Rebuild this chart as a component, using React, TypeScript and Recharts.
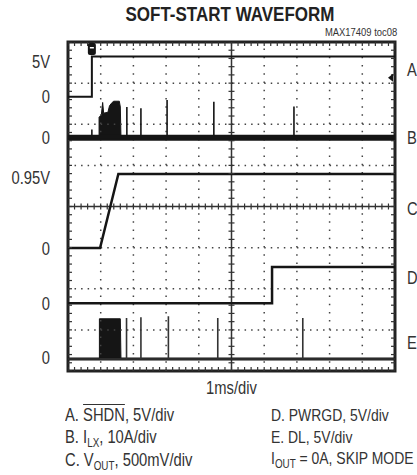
import React from 'react'
import {
  ComposedChart, Line, Area, Scatter, XAxis, YAxis,
  ReferenceLine, ReferenceArea, ReferenceDot,
} from 'recharts'

const FONT = "'Liberation Sans', Arial, sans-serif"
const NARROW = 0.82 // squeeze regular sans into a narrow face
const INK = '#151515'

// scope screen: 10 x 8 divisions, 1ms/div
const DIV_X = 10
const DIV_Y = 8

// channel offsets (div from bottom of screen) and scale per div
const chA = { zero: 6.67, perDiv: 5 }   // SHDN, V
const chB = { zero: 5.67, perDiv: 10 }  // ILX, A
const chC = { zero: 2.99, perDiv: 0.5 } // VOUT, V
const chD = { zero: 1.65, perDiv: 5 }   // PWRGD, V
const chE = { zero: 0.29, perDiv: 5 }   // DL, V

// [time ms, value]
const shdn: [number, number][] = [[0, 0], [0.73, 0], [0.73, 4.9], [10, 4.9]]
const ilxSpikes: [number, number][] = [[0.73, 2], [1.8, 7.5], [2.23, 7.2], [3.03, 9.2], [4.46, 8.8], [6.91, 7.6]]
const ilxBurst: [number, number][] = [
  [0.95, 0], [0.95, 5.0], [1.02, 5.6], [1.06, 8.6], [1.09, 6.0], [1.22, 6.2],
  [1.27, 7.8], [1.35, 8.6], [1.4, 8.9], [1.57, 8.9], [1.6, 7.5], [1.62, 0],
]
const vout: [number, number][] = [[0, 0], [0.98, 0], [1.54, 0.9], [10, 0.9]]
const pwrgd: [number, number][] = [[0, 0], [6.24, 0], [6.24, 4.4], [10, 4.4]]
const dlSpikes: [number, number][] = [[1.79, 5.0], [2.23, 5.1], [3.07, 5.2], [4.58, 5.0], [7.18, 5.0]]
const dlBurst: [number, number][] = [[0.96, 0], [0.96, 4.9], [1.6, 4.9], [1.62, 0]]

// left level labels and right channel letters (div from bottom)
const leftTicks = [7.52, 6.67, 5.67, 4.7, 2.97, 1.63, 0.32]
const leftLabels = ['5V', '0', '0', '0.95V', '0', '0', '0']
const rightTicks = [7.32, 5.67, 3.94, 2.26, 0.68]
const rightLabels = ['A', 'B', 'C', 'D', 'E']

const gridCols = [1, 2, 3, 4, 6, 7, 8, 9]
const gridRows = [1, 2, 3, 5, 6, 7]

type Ch = { zero: number; perDiv: number }
const toDiv = (ch: Ch, pts: [number, number][]) =>
  pts.map(([t, v]) => ({ t, y: ch.zero + v / ch.perDiv }))

const spikeTrace = (spikes: [number, number][]) => {
  const pts: [number, number][] = [[0, 0]]
  spikes.forEach(([t, p]) => { pts.push([t, 0], [t, p], [t, 0]) })
  pts.push([10, 0])
  return pts
}

const toRange = (ch: Ch, pts: [number, number][]) =>
  pts.map(([t, v]) => ({ t, r: [ch.zero, ch.zero + v / ch.perDiv] }))

// minor graticule marks, every 1/5 div
const minorX = Array.from({ length: DIV_X * 5 + 1 }, (_, i) => i / 5)
const minorY = Array.from({ length: DIV_Y * 5 + 1 }, (_, i) => i / 5)

const mark = (dx1: number, dy1: number, dx2: number, dy2: number) => (p: any) => (
  <line x1={p.cx + dx1} y1={p.cy + dy1} x2={p.cx + dx2} y2={p.cy + dy2} stroke="#333" strokeWidth={1.2} />
)

const leftMap = new Map(leftTicks.map((v, i) => [v, leftLabels[i]]))
const rightMap = new Map(rightTicks.map((v, i) => [v, rightLabels[i]]))

function NarrowTick(props: any) {
  const { x, y, payload, textAnchor, map } = props
  return (
    <text
      transform={`translate(${x},${y}) scale(${NARROW},1)`}
      textAnchor={textAnchor} dy="0.355em"
      fill="#333" fontSize={18} fontFamily={FONT}
    >
      {map.get(payload.value) ?? ''}
    </text>
  )
}

function TimeLabel(props: any) {
  const { x, y, width, height } = props.viewBox
  return (
    <text
      transform={`translate(${x + width / 2},${y + height / 2}) scale(${NARROW},1)`}
      textAnchor="middle" dy="0.355em" fill="#333" fontSize={18} fontFamily={FONT}
    >
      1ms/div
    </text>
  )
}

const narrowLine: React.CSSProperties = {
  transform: `scaleX(${NARROW})`, transformOrigin: '0 0', whiteSpace: 'nowrap',
}
const sub: React.CSSProperties = { fontSize: 12, position: 'relative', top: 4 }

export default function App() {
  return (
    <div style={{ position: 'absolute', left: 0, top: 0, width: 417, height: 475, background: '#fff', fontFamily: FONT, color: '#333', overflow: 'hidden' }}>
      <div style={{ position: 'absolute', left: 0, width: 460, top: 4, textAlign: 'center', fontSize: 20, lineHeight: '20px', fontWeight: 700, color: '#222', transform: 'scaleX(0.85)', transformOrigin: '230px 0' }}>
        SOFT-START WAVEFORM
      </div>
      <div style={{ position: 'absolute', right: 20, top: 27, fontSize: 11.5, lineHeight: '11px', transform: `scaleX(${NARROW})`, transformOrigin: '100% 0', whiteSpace: 'nowrap' }}>
        MAX17409 toc08
      </div>

      <div style={{ position: 'absolute', left: 0, top: 0 }}>
        <ComposedChart width={417} height={475} margin={{ top: 42, right: 0, bottom: 70, left: 8 }}>
          <XAxis
            dataKey="t" type="number" domain={[0, DIV_X]} allowDataOverflow
            tick={false} axisLine={false} tickLine={false} height={34}
            label={{ position: 'center', content: (p: any) => <TimeLabel {...p} /> }}
          />
          <YAxis dataKey="y" type="number" domain={[0, DIV_Y]} allowDataOverflow hide width={0} />
          <YAxis
            yAxisId="lbl" orientation="left" type="number" domain={[0, DIV_Y]} allowDataOverflow
            ticks={leftTicks} interval={0} width={60} tickSize={0} tickMargin={18}
            axisLine={false} tickLine={false}
            tick={(p: any) => <NarrowTick {...p} map={leftMap} />}
          />
          <YAxis
            yAxisId="ch" orientation="right" type="number" domain={[0, DIV_Y]} allowDataOverflow
            ticks={rightTicks} interval={0} width={22} tickSize={0} tickMargin={12}
            axisLine={false} tickLine={false}
            tick={(p: any) => <NarrowTick {...p} map={rightMap} />}
          />

          {/* dotted graticule */}
          {gridCols.map((c) => (
            <ReferenceLine key={'c' + c} x={c} stroke="#444" strokeWidth={1.5} strokeDasharray="1.5 6.73" />
          ))}
          {gridRows.map((r) => (
            <ReferenceLine key={'r' + r} y={r} stroke="#444" strokeWidth={1.5} strokeDasharray="1.5 5.04" />
          ))}
          <ReferenceLine x={5} stroke="#333" strokeWidth={1.5} />
          <ReferenceLine y={4} stroke="#333" strokeWidth={1.5} />

          <Scatter data={minorX.map((t) => ({ t, y: 4 }))} dataKey="y" shape={mark(0, -3, 0, 3)} isAnimationActive={false} />
          <Scatter data={minorY.map((y) => ({ t: 5, y }))} dataKey="y" shape={mark(-3, 0, 3, 0)} isAnimationActive={false} />
          <Scatter data={minorX.map((t) => ({ t, y: DIV_Y }))} dataKey="y" shape={mark(0, 0, 0, 4)} isAnimationActive={false} />
          <Scatter data={minorX.map((t) => ({ t, y: 0 }))} dataKey="y" shape={mark(0, -4, 0, 0)} isAnimationActive={false} />
          <Scatter data={minorY.map((y) => ({ t: 0, y }))} dataKey="y" shape={mark(0, 0, 4, 0)} isAnimationActive={false} />
          <Scatter data={minorY.map((y) => ({ t: DIV_X, y }))} dataKey="y" shape={mark(-4, 0, 0, 0)} isAnimationActive={false} />

          {/* traces */}
          <Area data={toRange(chB, ilxBurst)} dataKey="r" type="linear" stroke={INK} strokeWidth={1} fill={INK} fillOpacity={1} isAnimationActive={false} />
          <Area data={toRange(chE, dlBurst)} dataKey="r" type="linear" stroke={INK} strokeWidth={1} fill={INK} fillOpacity={1} isAnimationActive={false} />
          <Line data={toDiv(chA, shdn)} dataKey="y" type="linear" stroke={INK} strokeWidth={2} dot={false} isAnimationActive={false} />
          <Line data={toDiv(chB, [[0, 0], [10, 0]])} dataKey="y" type="linear" stroke={INK} strokeWidth={6} dot={false} isAnimationActive={false} />
          <Line data={toDiv(chB, spikeTrace(ilxSpikes))} dataKey="y" type="linear" stroke={INK} strokeWidth={1.6} dot={false} isAnimationActive={false} />
          <Line data={toDiv(chC, vout)} dataKey="y" type="linear" stroke={INK} strokeWidth={2.5} dot={false} isAnimationActive={false} />
          <Line data={toDiv(chD, pwrgd)} dataKey="y" type="linear" stroke={INK} strokeWidth={2.5} dot={false} isAnimationActive={false} />
          <Line data={toDiv(chE, [[0, 0], [10, 0]])} dataKey="y" type="linear" stroke={INK} strokeWidth={3} dot={false} isAnimationActive={false} />
          <Line data={toDiv(chE, spikeTrace(dlSpikes))} dataKey="y" type="linear" stroke="#333" strokeWidth={1.6} dot={false} isAnimationActive={false} />

          {/* screen border and markers */}
          <ReferenceArea x1={0} x2={DIV_X} y1={0} y2={DIV_Y} fill="none" stroke="#222" strokeWidth={3} ifOverflow="visible" />
          <ReferenceDot
            x={0.73} y={7.83} ifOverflow="visible"
            shape={(p: any) => (
              <g>
                <rect x={p.cx - 4} y={p.cy - 6} width={8} height={12} rx={2} fill={INK} />
                <rect x={p.cx - 2} y={p.cy - 2} width={4} height={1.5} fill="#fff" />
              </g>
            )}
          />
          <ReferenceDot
            x={DIV_X} y={7.13} ifOverflow="visible"
            shape={(p: any) => (
              <polygon points={`${p.cx - 2},${p.cy - 4} ${p.cx - 2},${p.cy + 4} ${p.cx - 7},${p.cy}`} fill={INK} />
            )}
          />
        </ComposedChart>
      </div>

      <div style={{ position: 'absolute', left: 65, top: 405, fontSize: 18, lineHeight: '21.7px' }}>
        <div style={narrowLine}>A. <span style={{ textDecoration: 'overline' }}>SHDN</span>, 5V/div</div>
        <div style={narrowLine}>B. I<span style={sub}>LX</span>, 10A/div</div>
        <div style={narrowLine}>C. V<span style={sub}>OUT</span>, 500mV/div</div>
      </div>
      <div style={{ position: 'absolute', left: 271, top: 405, fontSize: 17, lineHeight: '21.7px' }}>
        <div style={narrowLine}>D. PWRGD, 5V/div</div>
        <div style={narrowLine}>E. DL, 5V/div</div>
        <div style={narrowLine}>I<span style={sub}>OUT</span> = 0A, SKIP MODE</div>
      </div>
    </div>
  )
}
